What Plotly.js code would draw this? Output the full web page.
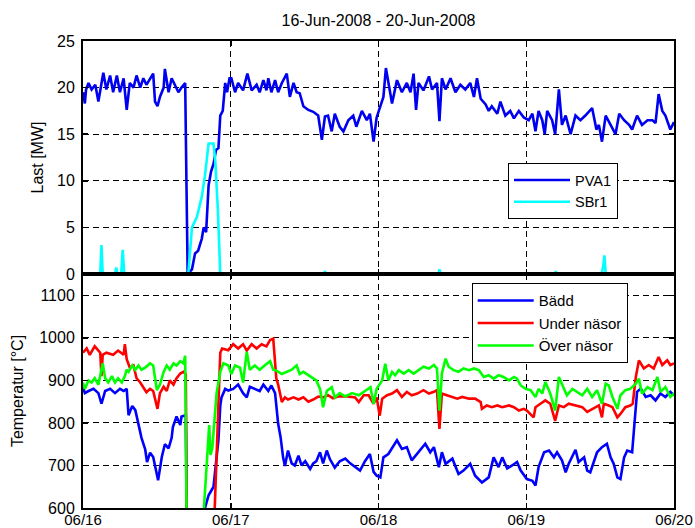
<!DOCTYPE html>
<html>
<head>
<meta charset="utf-8">
<script src="https://cdn.plot.ly/plotly-3.0.1.min.js"></script>
<style>html,body{margin:0;padding:0;background:#fff;}#chart{width:695px;height:528px;}</style>
</head>
<body>
<div id="chart"></div>
<script>
// Hours since 16-Jun-2008 00:00
const dayTicks = [0, 24, 48, 72, 96];
const dayLabels = ['06/16', '06/17', '06/18', '06/19', '06/20'];
const lastTicks = [0, 5, 10, 15, 20, 25];
const tempTicks = [600, 700, 800, 900, 1000, 1100];

// Last [MW]
const pva1 = [[0,19.5],[0.3,18.3],[0.5,19.8],[0.9,20.5],[1.4,19.8],[2.0,20.3],[2.5,18.5],[3.0,20.5],[3.3,21.6],[3.8,19.8],[4.4,21.3],[4.9,19.5],[5.5,21.3],[6.0,19.5],[6.6,21.0],[7.1,17.6],[7.6,20.5],[8.2,20.0],[8.7,21.3],[9.3,20.0],[9.8,21.0],[10.3,20.3],[10.9,21.0],[11.4,21.5],[11.7,18.5],[12.1,18.0],[12.5,19.0],[13.1,20.0],[13.3,22.0],[13.9,19.5],[14.4,21.0],[15.0,20.2],[15.5,19.5],[16.0,20.0],[16.6,20.5],[16.8,10],[17.0,0],[17.7,0.5],[18.2,2.2],[18.7,2.5],[19.3,3.8],[19.6,5.0],[20.0,4.5],[20.4,9.5],[20.8,11.0],[21.2,11.8],[21.6,13.3],[22.0,13.5],[22.3,17.0],[22.7,17.5],[23.1,20.5],[23.4,19.5],[23.8,21.0],[24.1,21.0],[24.7,19.5],[25.2,20.5],[26.0,19.7],[26.7,21.5],[27.4,19.7],[28.2,20.3],[28.7,19.5],[29.3,20.8],[29.8,19.7],[30.1,21.0],[30.6,19.5],[31.2,20.8],[31.7,19.5],[32.3,20.5],[33.1,21.5],[33.6,19.0],[34.2,20.5],[34.7,19.5],[35.2,19.4],[35.8,18.0],[36.6,17.6],[37.4,17.4],[38.2,17.0],[38.8,14.4],[39.3,16.9],[39.8,17.0],[40.4,15.3],[40.9,17.2],[41.7,15.8],[42.3,15.3],[43.1,16.5],[43.9,17.0],[44.4,15.8],[45.3,17.5],[46.1,16.5],[46.6,17.2],[47.2,14.2],[47.7,16.8],[48.3,18.0],[48.8,19.0],[49.2,22.1],[49.6,20.5],[50.2,18.3],[51.0,20.8],[51.8,19.5],[52.6,20.5],[53.2,19.5],[53.7,21.5],[54.1,17.6],[54.5,20.5],[55.3,19.7],[56.2,21.2],[56.7,19.8],[57.5,20.5],[57.9,16.4],[58.3,21.0],[58.9,19.8],[59.7,21.0],[60.5,19.5],[61.3,20.3],[62.1,19.8],[62.9,20.5],[63.5,19.0],[64.0,21.0],[64.6,18.8],[65.4,18.2],[65.9,17.5],[66.4,18.0],[67.3,17.2],[67.8,18.5],[68.6,17.0],[69.4,17.5],[70.0,16.7],[70.8,17.5],[71.6,16.8],[72.4,16.5],[73.0,17.2],[73.5,15.3],[74.0,17.5],[74.6,16.5],[75.0,15.0],[75.4,17.5],[76.2,16.5],[76.7,15.0],[77.3,19.8],[77.8,16.0],[78.4,17.0],[79.2,15.0],[80.0,17.0],[80.8,16.5],[81.6,17.0],[82.7,17.8],[83.4,15.5],[83.8,16.0],[84.3,14.2],[84.9,17.0],[85.7,16.0],[86.5,15.0],[87.1,17.2],[87.9,16.5],[88.7,16.0],[89.2,15.5],[90.0,17.0],[90.8,16.0],[91.7,16.5],[92.5,16.5],[93.0,16.2],[93.5,19.3],[94.1,17.5],[94.6,17.0],[95.4,15.5],[96.0,16.3]];
const sbr1 = [[0,0],[2.8,0],[3.0,3.1],[3.2,0],[5.2,0],[5.4,0.7],[5.6,0],[6.2,0],[6.45,2.6],[6.7,0],[17.1,0],[17.7,5.0],[18.5,6.1],[19.3,8.3],[19.8,10.5],[20.4,14.0],[21.2,14.0],[21.5,12.0],[21.9,7.0],[22.3,0],[39.1,0],[39.3,0.3],[39.5,0],[57.7,0],[57.9,0.5],[58.1,0],[76.6,0],[76.8,0.3],[77.0,0],[84.2,0],[84.5,0.8],[84.7,2.0],[84.9,0],[96,0]];

// Temperatur [°C]
const badd = [[0,885],[0.3,870],[0.9,875],[1.7,880],[2.5,870],[3.0,845],[3.6,875],[4.4,880],[5.2,870],[6.0,880],[6.6,875],[7.1,880],[7.4,818],[8.0,840],[8.5,830],[9.0,800],[9.5,765],[10.1,738],[10.4,708],[10.9,730],[11.4,720],[12.2,665],[12.8,720],[13.3,750],[13.9,740],[14.4,765],[14.6,790],[15.2,815],[15.8,795],[16.0,815],[16.7,818],[16.9,450],[19.7,590],[20.4,630],[21.2,650],[22.0,760],[22.3,840],[22.5,860],[23.1,880],[23.6,876],[24.4,880],[25.2,890],[26.0,870],[26.6,860],[27.1,885],[27.9,880],[28.7,875],[29.3,890],[30.1,875],[30.6,888],[31.2,870],[31.7,798],[32.1,766],[32.5,719],[32.8,699],[33.3,735],[33.9,705],[34.4,700],[35.0,723],[35.5,700],[36.1,710],[36.9,692],[37.4,705],[37.9,710],[38.5,731],[39.0,705],[39.6,735],[40.1,715],[40.9,695],[41.7,710],[42.6,716],[43.4,705],[44.2,696],[45.0,688],[45.8,710],[46.6,727],[47.2,685],[47.7,676],[48.3,672],[48.8,719],[49.6,727],[51.0,759],[51.8,739],[52.6,743],[53.4,712],[54.3,727],[55.6,751],[56.4,731],[57.0,743],[57.8,696],[58.3,731],[58.9,704],[60.0,716],[61.0,680],[61.8,688],[62.9,704],[63.7,676],[64.8,660],[65.9,672],[66.7,719],[67.5,696],[68.1,719],[68.9,693],[69.7,700],[70.5,708],[71.1,688],[72.1,668],[73.0,664],[73.5,653],[74.0,696],[74.9,731],[75.7,735],[76.5,719],[77.0,731],[77.8,712],[78.4,684],[78.9,704],[80.0,737],[80.5,708],[81.4,719],[81.9,688],[82.4,684],[83.5,731],[84.3,743],[85.1,751],[85.7,719],[86.2,704],[86.8,672],[87.3,668],[87.9,719],[88.4,735],[89.2,731],[89.6,798],[90.0,873],[90.6,881],[91.4,861],[92.2,865],[93.0,853],[93.8,869],[94.6,861],[95.4,873],[96.0,865]];
const underNasor = [[0,965],[0.6,975],[1.1,960],[1.9,980],[2.8,965],[3.0,910],[3.2,960],[3.8,965],[4.9,960],[5.7,970],[6.6,960],[6.8,985],[7.1,950],[7.6,930],[8.2,935],[8.7,905],[9.3,895],[9.8,882],[10.3,872],[10.9,880],[11.4,875],[12.1,833],[12.5,870],[13.1,885],[13.6,875],[14.1,900],[14.7,890],[15.2,905],[15.8,916],[16.3,920],[16.7,915],[16.9,450],[21.3,560],[22.3,965],[22.6,975],[23.6,971],[24.4,985],[25.2,975],[26.0,985],[26.6,970],[27.4,985],[28.2,975],[29.0,985],[29.8,980],[30.4,995],[30.9,998],[31.2,939],[31.4,905],[31.7,890],[32.3,849],[32.8,860],[33.3,855],[34.2,860],[35.0,855],[35.8,860],[36.6,850],[37.4,855],[38.2,862],[39.0,860],[39.8,865],[40.6,858],[41.4,862],[42.6,863],[44.2,860],[44.8,849],[45.6,865],[46.4,865],[47.2,845],[47.7,860],[48.2,817],[48.6,857],[49.4,865],[50.2,869],[51.0,877],[51.8,861],[52.6,873],[53.4,865],[54.3,869],[55.3,877],[56.2,869],[57.0,873],[57.5,877],[57.9,786],[58.3,869],[59.1,865],[60.0,861],[60.8,857],[61.6,861],[62.7,857],[63.7,857],[64.6,849],[64.8,833],[65.6,841],[66.4,837],[67.3,841],[68.1,837],[69.2,841],[70.0,837],[70.8,829],[71.6,833],[72.1,829],[73.2,813],[73.5,837],[74.3,845],[75.1,853],[75.9,845],[76.7,805],[77.3,841],[78.1,837],[78.9,845],[80.0,841],[81.1,837],[81.9,826],[82.7,833],[83.8,841],[84.3,813],[84.6,845],[85.4,841],[86.0,837],[86.8,813],[87.3,821],[88.1,837],[88.9,841],[89.3,845],[89.8,908],[90.3,947],[91.1,928],[91.9,936],[92.7,928],[93.5,955],[94.1,936],[94.9,947],[95.4,936],[96.0,940]];
const overNasor = [[0,895],[0.3,880],[0.9,900],[1.4,895],[1.9,905],[2.5,890],[3.2,940],[3.6,905],[4.1,895],[4.7,910],[5.2,895],[5.7,905],[6.3,895],[6.8,910],[7.1,925],[7.4,920],[8.0,935],[8.5,925],[9.0,935],[9.5,925],[10.1,930],[10.9,940],[11.4,935],[12.0,877],[12.5,890],[13.1,920],[13.6,935],[14.1,925],[14.7,940],[15.2,935],[15.8,945],[16.3,940],[16.6,958],[16.9,450],[19.6,590],[20.5,795],[20.7,725],[21.0,740],[21.7,870],[22.3,920],[22.8,940],[23.6,935],[24.1,915],[24.7,935],[25.5,930],[26.0,895],[26.6,967],[27.1,925],[27.9,935],[28.7,925],[29.5,935],[30.4,945],[30.9,925],[31.4,923],[32.3,915],[33.1,920],[33.9,925],[34.7,935],[35.2,915],[35.8,920],[36.6,912],[37.4,904],[37.9,900],[38.5,880],[39.0,837],[39.6,875],[40.4,884],[40.9,860],[41.7,870],[42.6,862],[43.7,870],[44.8,865],[45.9,876],[46.7,884],[47.2,845],[47.7,880],[48.6,900],[49.1,939],[49.6,900],[50.2,920],[50.7,912],[51.3,924],[52.1,916],[52.9,924],[53.7,916],[54.5,924],[55.3,932],[56.2,928],[57.0,936],[57.5,928],[57.9,829],[58.3,916],[58.9,951],[59.4,932],[60.2,924],[61.0,920],[61.8,928],[62.7,924],[63.5,928],[64.3,924],[65.1,908],[65.9,912],[66.7,904],[67.5,912],[68.3,908],[69.2,900],[70.0,908],[70.5,904],[71.1,888],[71.9,880],[72.7,877],[73.5,861],[74.0,880],[74.6,869],[75.1,896],[75.9,869],[76.7,829],[77.3,908],[78.1,880],[78.6,865],[79.5,880],[80.3,873],[81.1,865],[81.9,880],[82.7,861],[83.5,877],[84.3,845],[84.9,892],[85.4,888],[86.0,861],[86.8,833],[87.3,865],[88.1,877],[88.9,880],[89.8,892],[90.3,904],[90.8,869],[91.7,884],[92.5,877],[93.3,908],[93.8,873],[94.6,884],[95.4,861],[96.0,869]];

const FONT = 'Liberation Sans, Arial, Helvetica, sans-serif';
const xs = a => a.map(p => p[0]);
const ys = a => a.map(p => p[1]);

function line(data, name, color, xa, ya, legend) {
  return {
    type: 'scatter', mode: 'lines', name: name,
    x: xs(data), y: ys(data),
    xaxis: xa, yaxis: ya, legend: legend,
    line: {color: color, width: 2.6},
    hoverinfo: 'skip'
  };
}

const traces = [
  line(pva1, 'PVA1', '#0000f0', 'x', 'y', 'legend'),
  line(sbr1, 'SBr1', '#00ffff', 'x', 'y', 'legend'),
  line(badd, 'Bädd', '#0000ff', 'x2', 'y2', 'legend2'),
  line(underNasor, 'Under näsor', '#ff0000', 'x2', 'y2', 'legend2'),
  line(overNasor, 'Över näsor', '#00ff00', 'x2', 'y2', 'legend2')
];

const axisStyle = {
  showline: true, linecolor: '#000', linewidth: 2, mirror: 'ticks',
  ticks: 'inside', ticklen: 5, tickwidth: 1.5, tickcolor: '#000',
  showgrid: true, gridcolor: '#000', gridwidth: 1, griddash: '6px,4px',
  zeroline: false, fixedrange: true,
  tickfont: {family: FONT, size: 16, color: '#000'}
};

const split = (508 - 274) / 467;

const layout = {
  width: 695, height: 528,
  margin: {l: 83, r: 21, t: 41, b: 20},
  paper_bgcolor: '#fff', plot_bgcolor: '#fff',
  font: {family: FONT, size: 16, color: '#000'},
  showlegend: true,
  title: {text: '16-Jun-2008 - 20-Jun-2008', x: 0.5, xref: 'paper', xanchor: 'center',
          y: 1 - 20 / 528, yref: 'container', yanchor: 'middle',
          font: {family: FONT, size: 16, color: '#000'}},
  xaxis: Object.assign({}, axisStyle, {domain: [0, 1], anchor: 'y', range: [0, 96],
          tickvals: dayTicks, ticktext: dayLabels, showticklabels: false}),
  yaxis: Object.assign({}, axisStyle, {domain: [split, 1], anchor: 'x', range: [0, 25],
          tickvals: lastTicks, ticklabelstandoff: 3,
          title: {text: 'Last [MW]', standoff: 9, font: {family: FONT, size: 16, color: '#000'}}}),
  xaxis2: Object.assign({}, axisStyle, {domain: [0, 1], anchor: 'y2', range: [0, 96],
          tickvals: dayTicks, ticktext: dayLabels, ticklabelstandoff: -3,
          tickfont: {family: FONT, size: 15, color: '#000'}}),
  yaxis2: Object.assign({}, axisStyle, {domain: [0, split], anchor: 'x2', range: [600, 1150],
          tickvals: tempTicks, ticklabelstandoff: 3,
          title: {text: 'Temperatur [°C]', standoff: 12, font: {family: FONT, size: 16, color: '#000'}}}),
  legend: {x: (508 - 83) / 591, xanchor: 'left', y: (508 - 163) / 467, yanchor: 'top',
           xref: 'paper', yref: 'paper',
           bgcolor: '#fff', bordercolor: '#000', borderwidth: 1, itemwidth: 56,
           font: {family: FONT, size: 14.5, color: '#000'}},
  legend2: {x: (471.7 - 83) / 591, xanchor: 'left', y: (508 - 283.3) / 467, yanchor: 'top',
           xref: 'paper', yref: 'paper',
           bgcolor: '#fff', bordercolor: '#000', borderwidth: 1, itemwidth: 56,
           font: {family: FONT, size: 15, color: '#000'}}
};

Plotly.newPlot('chart', traces, layout, {displayModeBar: false, staticPlot: true});
</script>
</body>
</html>
